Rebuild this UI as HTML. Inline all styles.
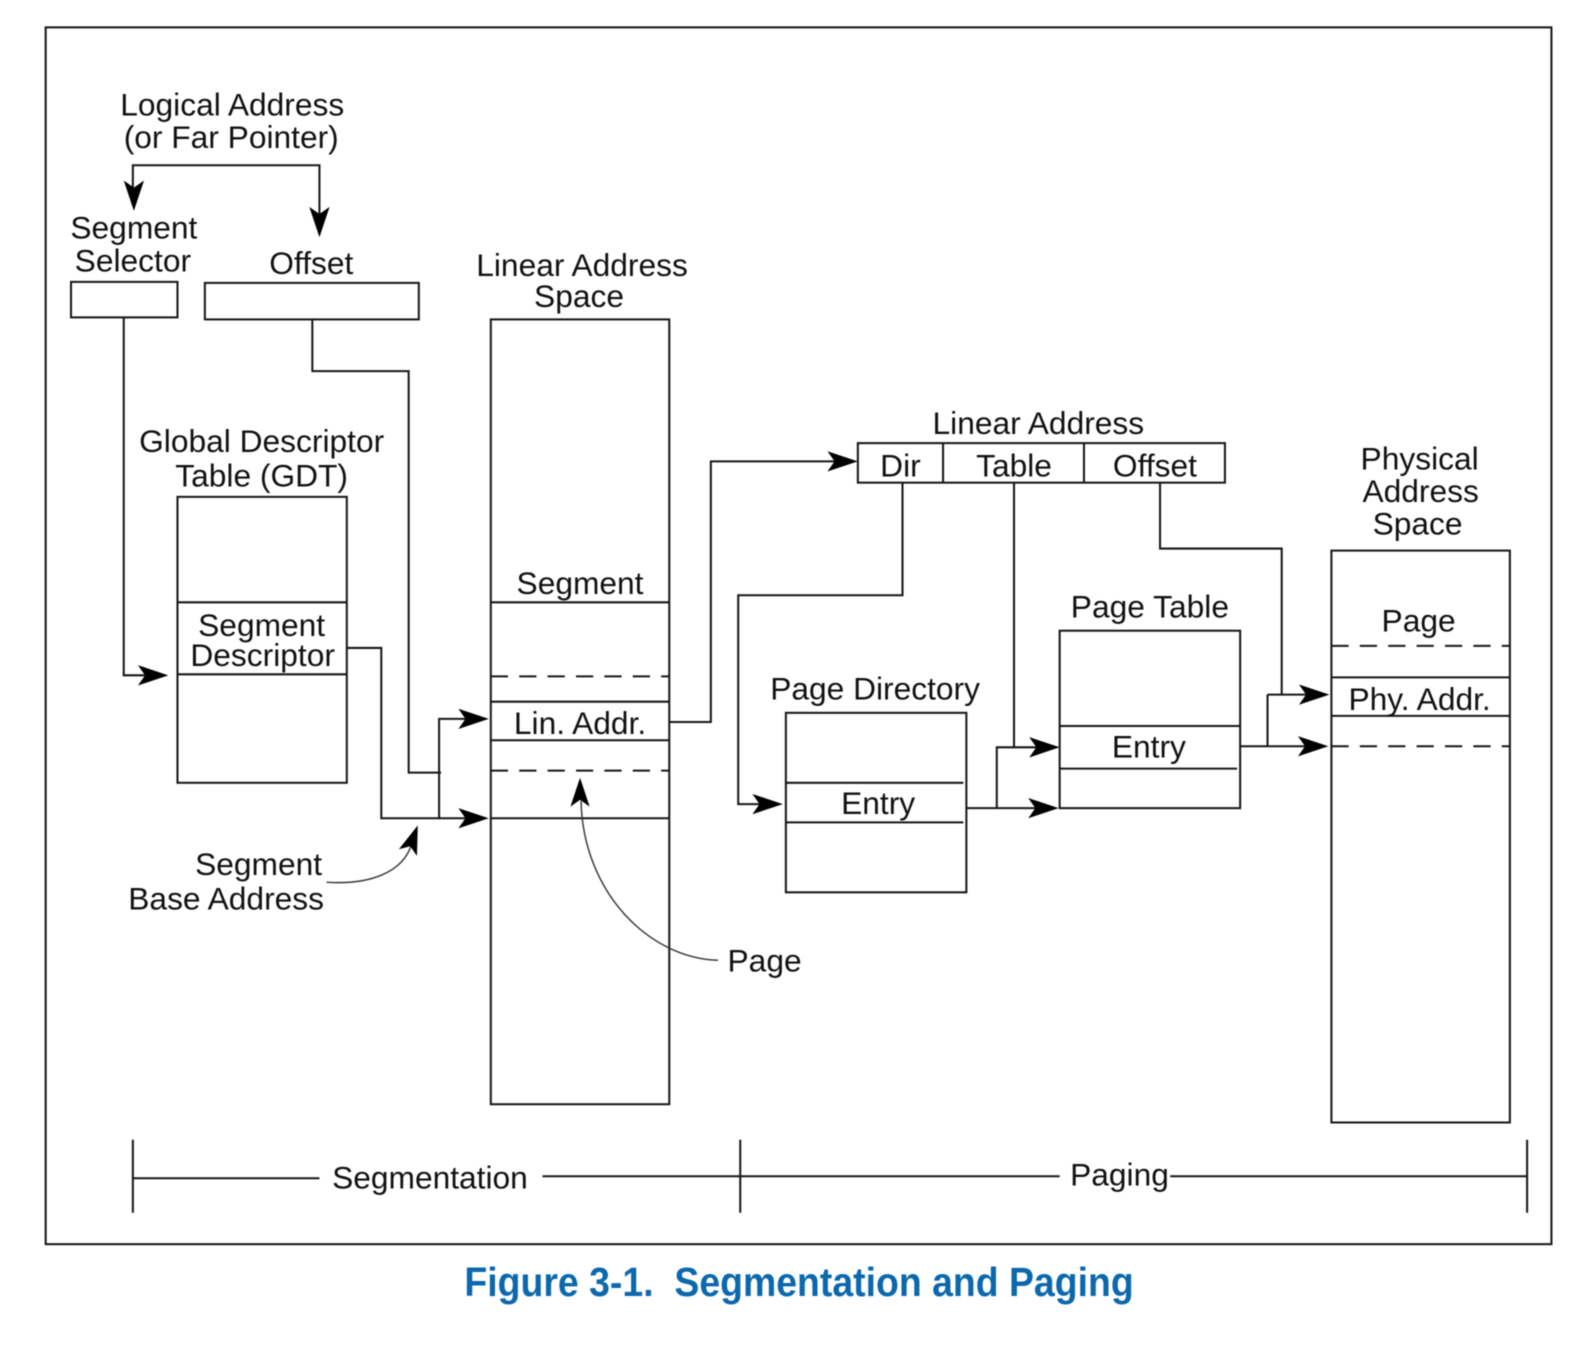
<!DOCTYPE html>
<html><head><meta charset="utf-8"><style>
html,body{margin:0;padding:0;background:#fff}
svg{display:block;filter:blur(0.45px)}
text{font-family:"Liberation Sans",sans-serif;font-size:31.3px;fill:#111;text-anchor:middle}
.l{fill:none;stroke:#161616;stroke-width:2}
.d{fill:none;stroke:#161616;stroke-width:2;stroke-dasharray:17 11}
.t{fill:none;stroke:#333;stroke-width:1.4}
.a{fill:#000}
</style></head><body>
<svg width="1590" height="1348" viewBox="0 0 1568 1329.4" xmlns="http://www.w3.org/2000/svg">
<defs>
<path id="ar" class="a" d="M0 0L-30 -10L-23 0L-30 10Z"/>
</defs>
<rect class="l" x="45" y="27" width="1485" height="1200"/>

<text x="229" y="114">Logical Address</text>
<text x="228" y="146">(or Far Pointer)</text>
<path class="l" d="M131 190V163H315V215"/>
<use href="#ar" transform="translate(132 208) rotate(90)"/>
<use href="#ar" transform="translate(315 234) rotate(90)"/>

<text x="132" y="235">Segment</text>
<text x="131" y="268">Selector</text>
<text x="307" y="270">Offset</text>
<rect class="l" x="70" y="278" width="105" height="35"/>
<rect class="l" x="202" y="279" width="211" height="36"/>

<path class="l" d="M122 313V666H145"/>
<use href="#ar" transform="translate(166 666)"/>
<path class="l" d="M308 315V366H403V762H435"/>

<text x="258" y="446">Global Descriptor</text>
<text x="258" y="480">Table (GDT)</text>
<rect class="l" x="175" y="490" width="167" height="282"/>
<path class="l" d="M175 594H342M175 665H342"/>
<text x="258" y="627">Segment</text>
<text x="259" y="657">Descriptor</text>

<path class="l" d="M342 639H376V807H462M433 807V709H462"/>
<use href="#ar" transform="translate(482 807)"/>
<use href="#ar" transform="translate(482 709)"/>

<text x="574" y="272">Linear Address</text>
<text x="571" y="303">Space</text>
<rect class="l" x="484" y="315" width="176" height="774"/>
<path class="l" d="M484 594H660M484 692H660M484 730H660M484 807H660"/>
<path class="d" d="M484 667H660M484 760H660"/>
<text x="572" y="586">Segment</text>
<text x="572" y="724">Lin. Addr.</text>

<path class="l" d="M660 712H701V455H825"/>
<use href="#ar" transform="translate(846 455)"/>

<text x="1024" y="428">Linear Address</text>
<rect class="l" x="846" y="437" width="362" height="39"/>
<path class="l" d="M930 437V476M1069 437V476"/>
<text x="888" y="470">Dir</text>
<text x="1000" y="470">Table</text>
<text x="1139" y="470">Offset</text>

<path class="l" d="M890 476V587H728V793H750"/>
<use href="#ar" transform="translate(772 793)"/>
<path class="l" d="M1000 476V737H983V797M1000 737H1024M953 797H1024"/>
<use href="#ar" transform="translate(1045 737)"/>
<use href="#ar" transform="translate(1044 797)"/>

<text x="863" y="690">Page Directory</text>
<rect class="l" x="775" y="703" width="178" height="177"/>
<path class="l" d="M775 772H950M775 811H950"/>
<text x="866" y="803">Entry</text>

<text x="1134" y="609">Page Table</text>
<rect class="l" x="1045" y="622" width="178" height="175"/>
<path class="l" d="M1045 716H1223M1045 758H1220"/>
<text x="1133" y="747">Entry</text>

<path class="l" d="M1144 476V541H1264V685M1250 685H1290M1250 736V685M1223 736H1290"/>
<use href="#ar" transform="translate(1311 685)"/>
<use href="#ar" transform="translate(1310 736)"/>

<text x="1400" y="463">Physical</text>
<text x="1401" y="495">Address</text>
<text x="1398" y="527">Space</text>
<rect class="l" x="1313" y="543" width="176" height="564"/>
<path class="l" d="M1313 668H1489M1313 706H1489"/>
<path class="d" d="M1313 637H1489M1313 736H1489"/>
<text x="1399" y="623">Page</text>
<text x="1400" y="700">Phy. Addr.</text>

<text x="255" y="863">Segment</text>
<text x="223" y="897">Base Address</text>
<path class="t" d="M322 870C365 873 398 860 406 832"/>
<use href="#ar" transform="translate(412 814) rotate(-70) scale(.95)"/>

<text x="754" y="958">Page</text>
<path class="t" d="M708 947C640 945 575 880 573 790"/>
<use href="#ar" transform="translate(572 767) rotate(-90) scale(.95)"/>

<path class="l" d="M131 1124V1196M730 1124V1196M1506 1124V1196"/>
<path class="l" d="M131 1162H315M535 1160H1045M1154 1160H1506"/>
<text x="424" y="1172">Segmentation</text>
<text x="1104" y="1169">Paging</text>

<text x="788" y="1278" style="font-size:40px;font-weight:bold;fill:#0b68ad" textLength="660" lengthAdjust="spacingAndGlyphs" xml:space="preserve">Figure 3-1.  Segmentation and Paging</text>
</svg>
</body></html>
